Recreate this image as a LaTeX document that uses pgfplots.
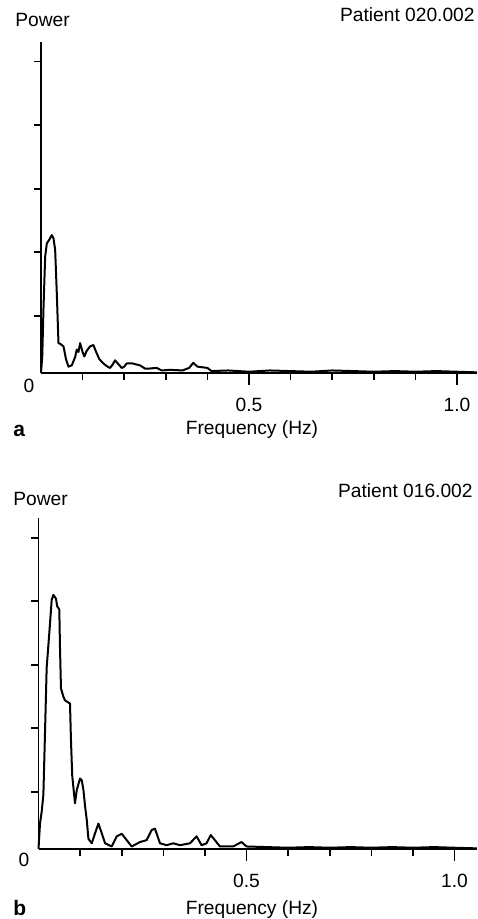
\documentclass[border=0pt]{standalone}
\usepackage{fontspec}
\setmainfont{Liberation Sans}
\usepackage{pgfplots}
\pgfplotsset{compat=1.18}

\pgfplotsset{
  spectrum/.style={
    scale only axis,
    axis x line*=bottom, axis y line*=left,
    x axis line style={line width=1.4pt},
    y axis line style={line width=0.8pt},
    tick align=outside,
    major tick length=3.5pt,
    tick style={black,line width=0.8pt},
    xtick={0.1,0.2,0.3,0.4,0.5,0.6,0.7,0.8,0.9,1.0}, xticklabels={},
    extra x ticks={0.5,1.0}, extra x tick labels={0.5,1.0},
    extra x tick style={major tick length=6pt,
      xticklabel style={font=\fontsize{9.6pt}{11pt}\selectfont,anchor=base,yshift=-13pt}},
    ytick={0.9,1.9,2.9,3.9,4.9}, yticklabels={},
    xmin=0, ymin=0, ymax=5.21,
    height=165.5pt,
    clip=false,
  },
  curve/.style={black,line width=1pt,line join=round,mark=none},
}

\begin{document}
\begin{tikzpicture}[font=\fontsize{9.6pt}{11pt}\selectfont]
\path[use as bounding box] (0,0) rectangle (238.5pt,-459.5pt);

% panel a
\begin{axis}[spectrum, at={(20.5pt,-186.5pt)}, anchor=south west,
  width=218pt, xmax=1.048]
\addplot[curve] coordinates {
(0,0) (0.003,0.26) (0.006,1.02) (0.010,1.83) (0.014,2.04) (0.020,2.10)
(0.026,2.17) (0.030,2.12) (0.034,1.94) (0.038,1.25) (0.042,0.47) (0.046,0.46)
(0.054,0.42) (0.060,0.22) (0.066,0.10) (0.074,0.12) (0.082,0.25) (0.086,0.37)
(0.090,0.33) (0.094,0.47) (0.100,0.33) (0.104,0.26) (0.110,0.35) (0.118,0.42)
(0.126,0.44) (0.132,0.34) (0.140,0.22) (0.150,0.15) (0.160,0.10) (0.166,0.08)
(0.172,0.13) (0.178,0.20) (0.186,0.14) (0.194,0.08) (0.200,0.10) (0.206,0.15)
(0.220,0.15) (0.238,0.12) (0.250,0.07) (0.260,0.07) (0.278,0.08) (0.290,0.04)
(0.310,0.05) (0.340,0.04) (0.356,0.08) (0.366,0.16) (0.376,0.10) (0.400,0.08)
(0.410,0.03) (0.45,0.04) (0.50,0.02) (0.55,0.04) (0.60,0.03) (0.65,0.02)
(0.70,0.04) (0.75,0.03) (0.80,0.02) (0.85,0.03) (0.90,0.02) (0.95,0.03)
(1.00,0.02) (1.048,0.01)
};
\end{axis}

% panel b
\begin{axis}[spectrum, at={(19.25pt,-424.5pt)}, anchor=south west,
  width=219.25pt, xmax=1.054]
\addplot[curve] coordinates {
(0,0) (0.0036,0.40) (0.0077,0.59) (0.0117,0.85) (0.0156,1.82) (0.0196,2.85)
(0.026,3.40) (0.0317,3.92) (0.0357,4.00) (0.042,3.94) (0.045,3.82) (0.050,3.77)
(0.0517,3.16) (0.054,2.53) (0.0597,2.40) (0.0637,2.34) (0.0757,2.29) (0.078,1.72)
(0.081,1.16) (0.0877,0.72) (0.092,0.93) (0.0998,1.11) (0.104,1.08) (0.108,0.93)
(0.112,0.67) (0.116,0.46) (0.120,0.16) (0.128,0.09) (0.136,0.25) (0.144,0.40)
(0.152,0.25) (0.160,0.09) (0.176,0.04) (0.188,0.20) (0.200,0.24) (0.212,0.14)
(0.224,0.04) (0.244,0.11) (0.260,0.14) (0.272,0.30) (0.280,0.32) (0.292,0.09)
(0.308,0.06) (0.324,0.09) (0.340,0.06) (0.364,0.09) (0.380,0.20) (0.392,0.06)
(0.404,0.09) (0.414,0.22) (0.424,0.14) (0.436,0.04) (0.468,0.04) (0.488,0.11)
(0.500,0.04) (0.55,0.03) (0.60,0.02) (0.65,0.03) (0.70,0.02) (0.75,0.03)
(0.80,0.02) (0.85,0.03) (0.90,0.02) (0.95,0.03) (1.00,0.02) (1.054,0.01)
};
\end{axis}

% labels
\node[anchor=base west,inner sep=0] at (7.5pt,-13.3pt) {Power};
\node[anchor=base east,inner sep=0] at (237.5pt,-11pt) {Patient 020.002};
\node[anchor=base,inner sep=0] at (14.5pt,-196pt) {0};
\node[anchor=base west,inner sep=0,font=\fontsize{10.5pt}{12pt}\selectfont\bfseries] at (6.5pt,-218pt) {a};
\node[anchor=base,inner sep=0] at (126pt,-217pt) {Frequency (Hz)};

\node[anchor=base west,inner sep=0] at (6.5pt,-252.5pt) {Power};
\node[anchor=base east,inner sep=0] at (236.5pt,-248.5pt) {Patient 016.002};
\node[anchor=base,inner sep=0] at (12pt,-433pt) {0};
\node[anchor=base west,inner sep=0,font=\fontsize{10.5pt}{12pt}\selectfont\bfseries] at (6.5pt,-457.5pt) {b};
\node[anchor=base,inner sep=0] at (126pt,-457pt) {Frequency (Hz)};
\end{tikzpicture}
\end{document}
